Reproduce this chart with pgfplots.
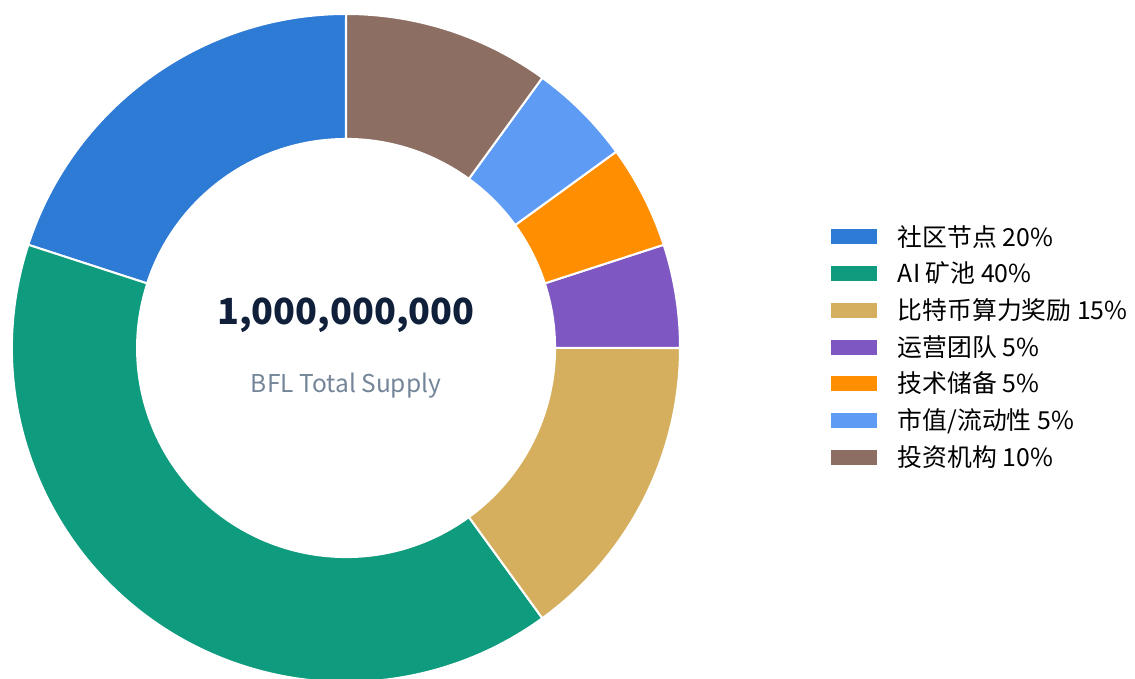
\documentclass[border=0pt]{standalone}
\usepackage{pgfplots}
\pgfplotsset{compat=1.18}
\usepackage{fontspec}
\setmainfont{Noto Sans CJK SC}
\definecolor{c1}{HTML}{2E7BD6}
\definecolor{c2}{HTML}{0F9B7E}
\definecolor{c3}{HTML}{D5AF5E}
\definecolor{c4}{HTML}{7E57C2}
\definecolor{c5}{HTML}{FF8F00}
\definecolor{c6}{HTML}{5E9BF5}
\definecolor{c7}{HTML}{8D6E63}
\definecolor{numcol}{HTML}{10203A}
\definecolor{subcol}{HTML}{748599}
\newcommand\rin{0.626}
% #1 cumulative start (%), #2 share (%), #3 colour
\newcommand\donutslice[3]{%
  \fill[#3, draw=white, line width=2bp]
    (axis cs:{cos(90+3.6*(#1))},{sin(90+3.6*(#1))})
    arc[start angle={90+3.6*(#1)}, delta angle={3.6*(#2)}, radius=334bp]
    -- (axis cs:{\rin*cos(90+3.6*(#1+#2))},{\rin*sin(90+3.6*(#1+#2))})
    arc[start angle={90+3.6*(#1+#2)}, delta angle={-3.6*(#2)}, radius=209bp]
    -- cycle;
}
\begin{document}
\begin{tikzpicture}
\begin{axis}[
  at={(346bp,331bp)}, anchor=center,
  scale only axis, width=668bp, height=668bp,
  xmin=-1, xmax=1, ymin=-1, ymax=1,
  hide axis, clip=false,
  legend style={at={(axis cs:1.452,0.383)}, anchor=north west, draw=none, fill=none,
    inner sep=0pt, outer sep=0pt, font=\fontsize{24.8bp}{28bp}\selectfont,
    row sep=0pt, /tikz/column sep=21bp,
    nodes={inner sep=0pt, outer sep=0pt, text height=26bp, text depth=10.7bp}},
  legend cell align=left,
  legend image code/.code={\fill[#1] (0bp,-6bp) rectangle (46bp,9bp);},
]
\donutslice{0}{20}{c1}
\donutslice{20}{40}{c2}
\donutslice{60}{15}{c3}
\donutslice{75}{5}{c4}
\donutslice{80}{5}{c5}
\donutslice{85}{5}{c6}
\donutslice{90}{10}{c7}
\addlegendimage{fill=c1, draw=none}
\addlegendentry{社区节点 20\%}
\addlegendimage{fill=c2, draw=none}
\addlegendentry{AI 矿池 40\%}
\addlegendimage{fill=c3, draw=none}
\addlegendentry{比特币算力奖励 15\%}
\addlegendimage{fill=c4, draw=none}
\addlegendentry{运营团队 5\%}
\addlegendimage{fill=c5, draw=none}
\addlegendentry{技术储备 5\%}
\addlegendimage{fill=c6, draw=none}
\addlegendentry{市值/流动性 5\%}
\addlegendimage{fill=c7, draw=none}
\addlegendentry{投资机构 10\%}
\node[anchor=base, text=numcol, inner sep=0pt, font=\bfseries\fontsize{36bp}{40bp}\selectfont] at (axis cs:0,0.0704) {1,000,000,000};
\node[anchor=base, text=subcol, inner sep=0pt, font=\fontsize{24.5bp}{28bp}\selectfont] at (axis cs:0,-0.1347) {BFL Total Supply};
\end{axis}
\pgfresetboundingbox
\path[use as bounding box] (0,0) rectangle (1135bp,679bp);
\end{tikzpicture}
\end{document}
